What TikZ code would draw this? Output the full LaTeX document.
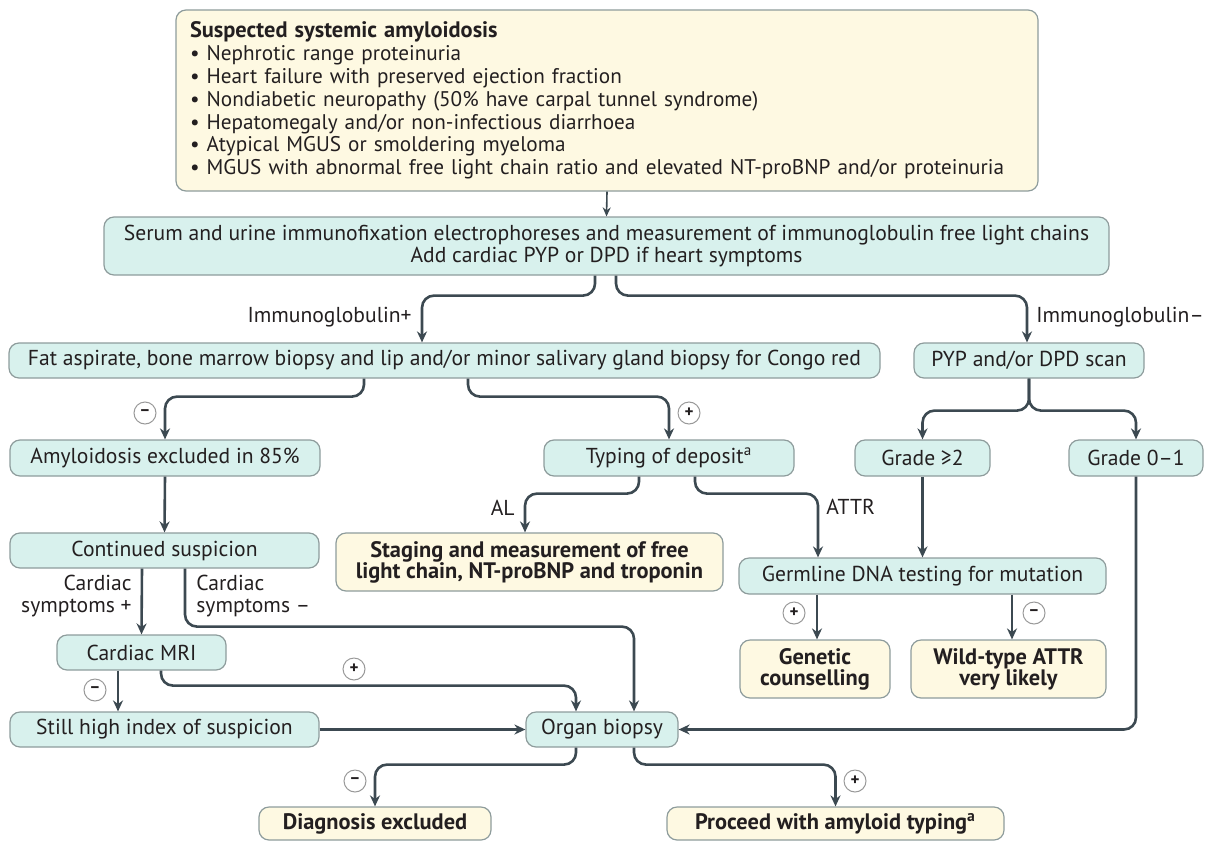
\documentclass[tikz,border=0pt]{standalone}
\usepackage{fontspec}
\setmainfont{PT Sans}
\usetikzlibrary{arrows.meta}

\definecolor{tealfill}{HTML}{D8F1ED}
\definecolor{creamfill}{HTML}{FEF9E2}
\definecolor{boxedge}{HTML}{8E9C9C}
\definecolor{linkcol}{HTML}{3C4951}
\definecolor{ink}{HTML}{231F20}

\tikzset{
  tealbox/.style={draw=boxedge, fill=tealfill, line width=0.6pt, rounded corners=5pt,
    inner sep=0pt, align=center, text=ink, font=\fontsize{10.8}{11}\selectfont},
  creambox/.style={tealbox, fill=creamfill, font=\fontsize{11.2}{10.6}\selectfont\bfseries},
  link/.style={draw=linkcol, line width=1.3pt, rounded corners=6pt,
    -{Stealth[length=5.5pt,width=5pt]}},
  thinlink/.style={draw=linkcol, line width=0.8pt, -{Stealth[length=4.5pt,width=4pt]}},
  signnode/.style={circle, draw=gray!80, line width=0.5pt, fill=white, inner sep=0pt,
    minimum size=11pt, text=ink, font=\fontsize{8.5}{8.5}\selectfont\bfseries},
  lbl/.style={text=ink, inner sep=0pt, font=\fontsize{10.8}{11}\selectfont}
}

\begin{document}
\begin{tikzpicture}[x=0.5pt,y=-0.5pt]
  % \draw[step=100,color=gray!40] (0,0) grid (1208,840);
  \useasboundingbox (0,0) rectangle (1208,840);

  \node[creambox, font=\fontsize{10.6}{11.4}\selectfont, minimum width=431pt, minimum height=90.5pt,
    text width=424pt, align=left] (top) at (607,100.5) {%
    \hspace*{3.5pt}{\fontsize{11.2}{11.4}\selectfont\textbf{Suspected systemic amyloidosis}}\\
    \hspace*{3.5pt}• Nephrotic range proteinuria\\
    \hspace*{3.5pt}• Heart failure with preserved ejection fraction\\
    \hspace*{3.5pt}• Nondiabetic neuropathy (50\% have carpal tunnel syndrome)\\
    \hspace*{3.5pt}• Hepatomegaly and/or non-infectious diarrhoea\\
    \hspace*{3.5pt}• Atypical MGUS or smoldering myeloma\\
    \hspace*{3.5pt}• MGUS with abnormal free light chain ratio and elevated NT-proBNP and/or proteinuria};

  \foreach \x/\y/\w/\h/\name/\txt in {
      606.5/246/1005/58/serum/{Serum and urine immunofixation electrophoreses and measurement of immunoglobulin free light chains\\Add cardiac PYP or DPD if heart symptoms},
      444.5/360.5/871/35/fat/{Fat aspirate, bone marrow biopsy and lip and/or minor salivary gland biopsy for Congo red},
      1029/360.5/230/35/pyp/{PYP and/or DPD scan},
      165/458/310/36/amy/{Amyloidosis excluded in 85\%},
      669/458/250/36/typing/{Typing of deposit\textsuperscript{a}},
      922.5/458/135/36/gtwo/{Grade ≥2},
      1136/458/134/36/gzero/{Grade 0–1},
      164.5/550.5/309/35/cont/{Continued suspicion},
      922.5/576/367/36/germ/{Germline DNA testing for mutation},
      141.5/652.5/169/35/mri/{Cardiac MRI},
      164.5/729.5/309/35/still/{Still high index of suspicion},
      602/729.5/152/35/organ/{Organ biopsy}}{
    \node[tealbox, minimum width=\w*0.5pt, minimum height=\h*0.5pt] (\name) at (\x,\y) {\txt};
  }

  \foreach \x/\y/\w/\h/\name/\txt in {
      529.5/562/387/58/staging/{Staging and measurement of free\\light chain, NT-proBNP and troponin},
      815/669/150/58/genetic/{Genetic\\counselling},
      1008.5/669/195/58/wild/{Wild-type ATTR\\very likely},
      375/823.5/232/33/diag/{Diagnosis excluded},
      835.5/823.5/337/33/proceed/{Proceed with amyloid typing\textsuperscript{a}}}{
    \node[creambox, minimum width=\w*0.5pt, minimum height=\h*0.5pt] (\name) at (\x,\y) {\txt};
  }

  % plus / minus marks
  \foreach \x/\y/\s/\name in {145/413/–/fatneg, 689/413/+/fatpos, 95/690/–/mrineg, 354/669/+/mripos,
      794/613/+/germpos, 1034/613/–/germneg, 355/781/–/organneg, 855/781/+/organpos}{
    \node[signnode] (\name) at (\x,\y) {\s};
  }

  \node[lbl, anchor=east] (igpos) at (412,317) {Immunoglobulin+};
  \node[lbl, anchor=west] (igneg) at (1036,317) {Immunoglobulin–};
  \node[lbl, anchor=east] (al) at (515,508) {AL};
  \node[lbl, anchor=west] (attr) at (826,507) {ATTR};
  \node[lbl, anchor=east, align=right] (cardpos) at (132,596) {Cardiac\\symptoms +};
  \node[lbl, anchor=west, align=left] (cardneg) at (196,596) {Cardiac\\symptoms –};

  \draw[thinlink] (top.south) -- (serum.north);
  \foreach \from/\to in {amy.south/cont.north, gtwo.south/germ.north, still.east/organ.west} {
    \draw[link] (\from) -- (\to);
  }

  \draw[link] ([xshift=-5.75pt]serum.south) -- ++(0,20) -| ([xshift=-11.25pt]fat.north);
  \draw[link] ([xshift=4.75pt]serum.south) -- ++(0,20) -| ([xshift=-1pt]pyp.north);
  \draw[link] ([xshift=-40.25pt]fat.south) -- ++(0,18) -| (amy.north);
  \draw[link] ([xshift=11.75pt]fat.south) -- ++(0,18) -| (typing.north);
  \draw[link] (pyp.south) -- ++(0,32) -| (gtwo.north);
  \draw[link] (pyp.south) -- ++(0,32) -| (gzero.north);
  \draw[link] ([xshift=-15pt]typing.south) -- ++(0,17) -| ([xshift=-2.25pt]staging.north);
  \draw[link] ([xshift=13pt]typing.south) -- ++(0,17) -| ([xshift=-52.25pt]germ.north);
  \draw[link] (gzero.south) |- (organ.east);
  \draw[link] ([xshift=-11.25pt]cont.south) -- (mri.north);
  \draw[link] ([xshift=10.25pt]cont.south) -- ++(0,58) -| ([xshift=16pt]organ.north);
  \draw[link] ([xshift=-11.75pt]mri.south) -- ([xshift=-11.75pt]mri.south |- still.north);
  \draw[link] ([xshift=9.75pt]mri.south) -- ++(0,15) -| ([xshift=-13pt]organ.north);
  \draw[link] ([xshift=-52.75pt]germ.south) -- ([xshift=-52.75pt]germ.south |- genetic.north);
  \draw[link] ([xshift=44.75pt]germ.south) -- ([xshift=44.75pt]germ.south |- wild.north);
  \draw[link] ([xshift=-13pt]organ.south) -- ++(0,17) -| (diag.north);
  \draw[link] ([xshift=16pt]organ.south) -- ++(0,17) -| (proceed.north);
\end{tikzpicture}
\end{document}
